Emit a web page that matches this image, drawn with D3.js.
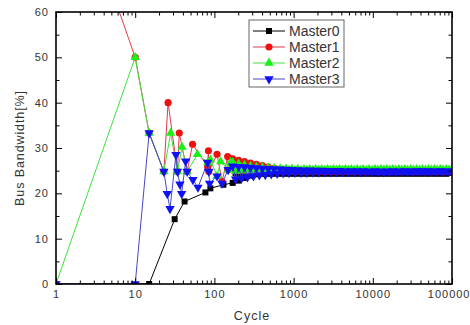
<!DOCTYPE html>
<html><head><meta charset="utf-8">
<script src="https://cdn.jsdelivr.net/npm/d3@7"></script>
<style>
body{margin:0;background:#fff;}
text{font-family:"Liberation Sans",Arial,sans-serif;}
</style>
</head><body>
<svg id="chart" width="470" height="325"></svg>
<script>
// ---------- DATA ----------
const seriesNames = ["Master0", "Master1", "Master2", "Master3"];

// early (sparse) part of each series
const m0Cycle = [1, 15, 31.5, 42, 77, 89, 130];
const m0Value = [0, 0, 14.3, 18.2, 20.2, 21.1, 21.9];

const m1Cycle = [1, 10, 15, 23, 26, 34.2, 36, 45.3, 53, 82, 84, 85, 108, 125, 147, 149];
const m1Value = [100, 50, 33.3, 24.8, 40, 24.8, 33.3, 24.8, 30.8, 25.9, 29.4, 24.8, 28.6, 22.6, 28.1, 25.2];

const m2Cycle = [1, 10, 15, 23, 28, 34.2, 39, 45.3, 61, 83, 89, 108, 120, 149, 160];
const m2Value = [0, 50, 33.3, 24.8, 33.3, 24.8, 30.2, 24.8, 28.6, 26.8, 27.4, 23.8, 27.0, 25.2, 26.8];

const m3Cycle = [1, 10, 15, 23, 25.4, 27.5, 32.7, 34.2, 36.7, 38.6, 43.3, 45.3, 53.5, 62, 82, 85, 87, 108, 125, 149];
const m3Value = [0, 0, 33.3, 24.8, 19.9, 16.6, 28.5, 24.8, 22.0, 19.9, 27.1, 24.8, 23.0, 21.3, 26.8, 24.8, 22.2, 23.8, 22.2, 25.2];

// dense oscillating part (shared sample cycles)
const bandCycle = [170, 185, 202, 220, 240, 262, 285, 311, 339, 370, 403, 439, 479, 522, 569, 620, 676, 737, 803, 875,
  954, 1040, 1130, 1240, 1350, 1470, 1600, 1750, 1900, 2080, 2260, 2470, 2690, 2930, 3190, 3480, 3800, 4140, 4510, 4920,
  5360, 5840, 6370, 6940, 7570, 8250, 8990, 9800, 10700, 11600, 12700, 13800, 15100, 16400, 17900, 19500, 21300, 23200,
  25300, 27500, 30000, 32700, 35700, 38900, 42400, 46200, 50300, 54900, 59800, 65200, 71000, 77400, 84400, 92000, 100000];

const m0Band = [22.3, 24.4, 22.8, 24.5, 23.4, 24.6, 23.9, 24.6, 24.2, 24.6, 24.3, 24.6, 24.3, 24.7, 24.3, 24.7, 24.3, 24.7, 24.3, 24.7,
  24.3, 24.7, 24.3, 24.7, 24.3, 24.7, 24.3, 24.7, 24.3, 24.7, 24.3, 24.7, 24.3, 24.7, 24.3, 24.7, 24.3, 24.7, 24.3, 24.7,
  24.3, 24.7, 24.3, 24.7, 24.3, 24.7, 24.3, 24.7, 24.3, 24.7, 24.3, 24.7, 24.3, 24.7, 24.3, 24.7, 24.3, 24.7, 24.3, 24.7,
  24.3, 24.7, 24.3, 24.7, 24.3, 24.7, 24.3, 24.7, 24.3, 24.7, 24.3, 24.7, 24.3, 24.7, 24.5];

const m1Band = [27.6, 25.0, 27.3, 25.0, 27.0, 25.0, 26.7, 25.0, 26.4, 24.9, 26.1, 24.9, 25.8, 24.9, 25.5, 24.9, 25.2, 24.8, 25.0, 24.8,
  24.9, 24.75, 24.9, 24.75, 24.9, 24.75, 24.9, 24.75, 24.9, 24.75, 24.9, 24.75, 24.9, 24.75, 24.9, 24.75, 24.9, 24.75, 24.9, 24.75,
  24.9, 24.75, 24.9, 24.75, 24.9, 24.75, 24.9, 24.75, 24.9, 24.75, 24.9, 24.75, 24.9, 24.75, 24.9, 24.75, 24.9, 24.75, 24.9, 24.75,
  24.9, 24.75, 24.9, 24.75, 24.9, 24.75, 24.9, 24.75, 24.9, 24.75, 24.9, 24.75, 24.9, 24.75, 24.85];

const m2Band = [26.8, 24.9, 26.5, 25.0, 26.2, 25.0, 26.0, 25.1, 25.8, 25.1, 25.7, 25.1, 25.6, 25.1, 25.5, 25.1, 25.45, 25.1, 25.4, 25.1,
  25.4, 25.1, 25.35, 25.1, 25.3, 25.1, 25.3, 25.1, 25.3, 25.1, 25.3, 25.1, 25.3, 25.1, 25.3, 25.1, 25.3, 25.1, 25.3, 25.1,
  25.3, 25.1, 25.3, 25.1, 25.3, 25.1, 25.3, 25.1, 25.3, 25.15, 25.3, 25.15, 25.3, 25.15, 25.3, 25.15, 25.3, 25.15, 25.3, 25.15,
  25.25, 25.15, 25.25, 25.15, 25.25, 25.15, 25.25, 25.15, 25.25, 25.15, 25.25, 25.15, 25.25, 25.15, 25.25];

const m3Band = [26.0, 23.1, 25.9, 23.3, 25.8, 23.6, 25.7, 23.8, 25.6, 24.0, 25.5, 24.1, 25.45, 24.25, 25.4, 24.35, 25.3, 24.45, 25.25, 24.5,
  25.2, 24.55, 25.15, 24.6, 25.1, 24.6, 25.1, 24.65, 25.05, 24.65, 25.05, 24.7, 25.0, 24.7, 25.0, 24.7, 25.0, 24.75, 24.95, 24.75,
  24.95, 24.7, 24.95, 24.7, 24.95, 24.75, 24.9, 24.75, 24.95, 24.7, 24.9, 24.7, 24.9, 24.75, 24.95, 24.75, 24.9, 24.8, 24.95, 24.8,
  24.9, 24.8, 24.95, 24.8, 24.95, 24.8, 24.95, 24.85, 24.9, 24.85, 24.95, 24.85, 24.9, 24.85, 24.9];

const xTickLabels = [1, 10, 100, 1000, 10000, 100000];
const yTickLabels = [0, 10, 20, 30, 40, 50, 60];
const yMinorTicks = [5, 15, 25, 35, 45, 55];

// ---------- BUILD ----------
function build(cyc, val, bandVal) {
  const pts = cyc.map((c, i) => ({c: c, v: val[i]}));
  return pts.concat(bandCycle.map((c, i) => ({c: c, v: bandVal[i]})));
}
const series = [
  {name: seriesNames[0], pts: build(m0Cycle, m0Value, m0Band), line: "#000000", fill: "#000000", sym: d3.symbolSquare, size: 36, rot: 0},
  {name: seriesNames[1], pts: build(m1Cycle, m1Value, m1Band), line: "#e03a4a", fill: "#f01010", sym: d3.symbolCircle, size: 40, rot: 0},
  {name: seriesNames[2], pts: build(m2Cycle, m2Value, m2Band), line: "#3ee03e", fill: "#18f018", sym: d3.symbolTriangle, size: 38, rot: 0},
  {name: seriesNames[3], pts: build(m3Cycle, m3Value, m3Band), line: "#4646c8", fill: "#1010f0", sym: d3.symbolTriangle, size: 38, rot: 180}
];

const svg = d3.select("#chart");
const L = 56, R = 452, T = 12, B = 284;
const x = d3.scaleLog().domain([1, 100000]).range([L, R]);
const y = d3.scaleLinear().domain([0, 60]).range([B, T]);

svg.append("rect").attr("width", 470).attr("height", 325).attr("fill", "#fff");

svg.append("defs").append("clipPath").attr("id", "clip")
  .append("rect").attr("x", L).attr("y", T).attr("width", R - L).attr("height", B - T);

const plot = svg.append("g").attr("clip-path", "url(#clip)");
const line = d3.line().x(d => x(d.c)).y(d => y(d.v));

series.forEach(s => {
  plot.append("path").datum(s.pts).attr("d", line)
    .attr("fill", "none").attr("stroke", s.line).attr("stroke-width", 1);
  plot.selectAll(null).data(s.pts).enter().append("path")
    .attr("d", d3.symbol().type(s.sym).size(s.size))
    .attr("transform", d => `translate(${x(d.c)},${y(d.v)}) rotate(${s.rot})`)
    .attr("fill", s.fill);
});

// ---------- AXES ----------
const minorX = x.ticks().filter(v => !xTickLabels.includes(v));
function styleAxis(g) {
  g.select(".domain").remove();
  g.selectAll(".tick line").attr("stroke", "#000").attr("stroke-width", 1);
  g.selectAll("text").attr("fill", "#333").attr("font-size", 11)
    .attr("font-family", "'Liberation Sans', Arial, sans-serif").style("letter-spacing", "1px");
}
// bottom
const bx = svg.append("g").attr("transform", `translate(0,${B})`)
  .call(d3.axisBottom(x).tickValues(xTickLabels).tickFormat(d3.format("d")).tickSize(-6).tickSizeOuter(0).tickPadding(6))
  .call(styleAxis);
bx.selectAll("text").filter(d => d === 100000).attr("text-anchor", "end").attr("x", 18);
svg.append("g").attr("transform", `translate(0,${B})`)
  .call(d3.axisBottom(x).tickValues(minorX).tickFormat("").tickSize(-3.5).tickSizeOuter(0))
  .call(styleAxis);
// top
svg.append("g").attr("transform", `translate(0,${T})`)
  .call(d3.axisTop(x).tickValues(xTickLabels).tickFormat("").tickSize(-6).tickSizeOuter(0))
  .call(styleAxis);
svg.append("g").attr("transform", `translate(0,${T})`)
  .call(d3.axisTop(x).tickValues(minorX).tickFormat("").tickSize(-3.5).tickSizeOuter(0))
  .call(styleAxis);
// left
svg.append("g").attr("transform", `translate(${L},0)`)
  .call(d3.axisLeft(y).tickValues(yTickLabels).tickFormat(d3.format("d")).tickSize(-6).tickSizeOuter(0).tickPadding(7))
  .call(styleAxis);
svg.append("g").attr("transform", `translate(${L},0)`)
  .call(d3.axisLeft(y).tickValues(yMinorTicks).tickFormat("").tickSize(-3.5).tickSizeOuter(0))
  .call(styleAxis);
// right
svg.append("g").attr("transform", `translate(${R},0)`)
  .call(d3.axisRight(y).tickValues(yTickLabels).tickFormat("").tickSize(-6).tickSizeOuter(0))
  .call(styleAxis);
svg.append("g").attr("transform", `translate(${R},0)`)
  .call(d3.axisRight(y).tickValues(yMinorTicks).tickFormat("").tickSize(-3.5).tickSizeOuter(0))
  .call(styleAxis);

// frame
svg.append("rect").attr("x", L).attr("y", T).attr("width", R - L).attr("height", B - T)
  .attr("fill", "none").attr("stroke", "#000").attr("stroke-width", 1.6);

// axis titles
svg.append("text").attr("x", (L + R) / 2 - 2).attr("y", 320).attr("text-anchor", "middle")
  .attr("font-size", 12.5).attr("fill", "#333").style("letter-spacing", "1px").text("Cycle");
svg.append("text").attr("transform", `translate(24,${(T + B) / 2}) rotate(-90)`).attr("text-anchor", "middle")
  .attr("font-size", 12.5).attr("fill", "#333").style("letter-spacing", "0.9px").text("Bus Bandwidth[%]");

// ---------- LEGEND ----------
const lg = svg.append("g").attr("transform", "translate(249,20)");
lg.append("rect").attr("width", 95).attr("height", 67).attr("fill", "#fff")
  .attr("stroke", "#666").attr("stroke-width", 1);
series.forEach((s, i) => {
  const yy = 11 + i * 16;
  lg.append("line").attr("x1", 4).attr("x2", 36).attr("y1", yy).attr("y2", yy)
    .attr("stroke", s.line).attr("stroke-width", 1);
  lg.append("path").attr("d", d3.symbol().type(s.sym).size(s.size))
    .attr("transform", `translate(20,${yy}) rotate(${s.rot})`).attr("fill", s.fill);
  lg.append("text").attr("x", 40).attr("y", yy).attr("dy", "0.36em")
    .attr("font-size", 14).attr("fill", "#333").text(s.name);
});
</script>
</body></html>
